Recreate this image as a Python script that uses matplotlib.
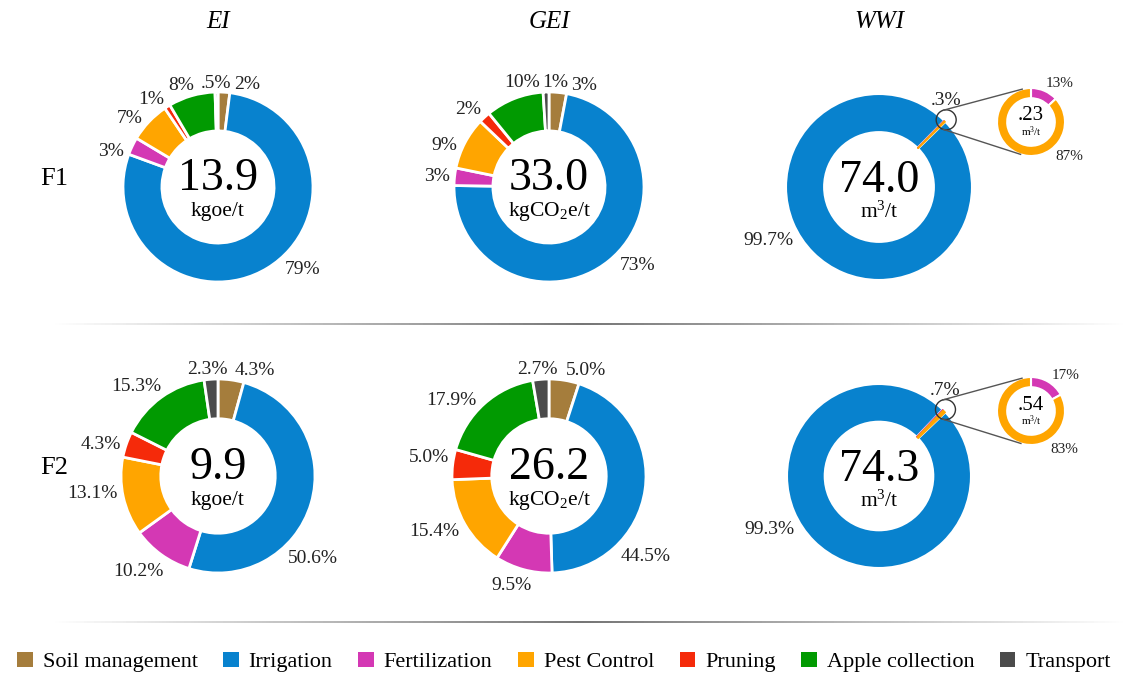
import numpy as np
import matplotlib
matplotlib.use("Agg")
import matplotlib.pyplot as plt
from matplotlib.patches import Patch, Circle
from matplotlib.collections import LineCollection

SERIF = "Liberation Serif"
plt.rcParams["font.family"] = [SERIF, "DejaVu Serif"]
plt.rcParams["mathtext.fontset"] = "custom"
plt.rcParams["mathtext.rm"] = SERIF
plt.rcParams["mathtext.it"] = SERIF + ":italic"

# ---------------- data ----------------
categories = ["Soil management", "Irrigation", "Fertilization", "Pest Control",
              "Pruning", "Apple collection", "Transport"]
colors = ["#A57D3C", "#0882CE", "#D438B4", "#FFA500", "#F52A0A", "#019A01", "#4B4B4B"]

ei_f1 = [2, 79, 3, 7, 1, 8, 0.5]
gei_f1 = [3, 73, 3, 9, 2, 10, 1]
ei_f2 = [4.3, 50.6, 10.2, 13.1, 4.3, 15.3, 2.3]
gei_f2 = [5.0, 44.5, 9.5, 15.4, 5.0, 17.9, 2.7]

wwi_irrigation = [99.7, 99.3]          # % of WWI from irrigation (F1, F2)
wwi_other = [0.3, 0.7]                 # % of WWI from the rest (F1, F2)
wwi_other_split_f1 = [13, 87]          # Fertilization, Pest Control (% of the rest)
wwi_other_split_f2 = [17, 83]
wwi_other_value = [0.23, 0.54]         # m3/t

ei_total = [13.9, 9.9]
gei_total = [33.0, 26.2]
wwi_total = [74.0, 74.3]

titles = ["EI", "GEI", "WWI"]
rows = ["F1", "F2"]
units = ["kgoe/t", r"kgCO$_2$e/t", r"m$^3$/t"]

# ---------------- layout / style ----------------
W, H = 1123, 677
COL_X = [218, 549, 879]
ROW_Y = [187, 476]                       # pixel rows (from top)
R_MAIN = [[95, 95, 93], [97, 97, 92]]
HOLE = 0.59
INSET_OFF = (152, -65)
R_INSET, HOLE_INSET = 34, 0.70
LABEL_FS, LEGEND_FS = 14, 16
# angular shift (deg) of each label from its wedge centre
SHIFTS = {
    (0, 0): [-12, 15, 6.5, 5, 4.4, 3.3, 0],
    (0, 1): [-13.6, 10, 0, 5.3, 2.8, -7, -5.4],
    (1, 0): [-11, -24, -4.6, -5.3, 3, 5.8, 1.6],
    (1, 1): [-10, -31, -4, -5, -3, 9.6, 1],
}
WWI_IRR_SHIFT = -20
INSET_SHIFTS = [-12.6, 73]
SLIVER_ANGLE = 45

fig = plt.figure(figsize=(W / 100, H / 100), dpi=100)
ax = fig.add_axes([0, 0, 1, 1])
renderer = fig.canvas.get_renderer()


def Y(ypix):
    return H - ypix


def fmt(v, dec):
    s = f"{v:g}" if dec is None else f"{v:.{dec}f}"
    if s.startswith("0."):
        s = s[1:]
    return s + "%"


def radial_label(cx, cy, R, ang, s, fs, gap=4):
    t = ax.text(0, 0, s, fontsize=fs, ha="center", va="baseline", color="#222222")
    w = t.get_window_extent(renderer).width
    h = 0.66 * fs * 100 / 72
    c, sn = np.cos(np.radians(ang)), np.sin(np.radians(ang))
    r = R + gap + 0.5 * (w * abs(c) + h * abs(sn))
    t.set_position((cx + r * c, cy + r * sn - h / 2))
    return t


def donut(cx, cy, R, vals, cols, start, hole=HOLE, lw=2):
    wedges, _ = ax.pie(vals, colors=cols, startangle=start, counterclock=False,
                       radius=R, center=(cx, cy),
                       wedgeprops=dict(width=R * (1 - hole), edgecolor="white", linewidth=lw))
    return wedges


def center_text(cx, cy, big, unit, fs_big=33, fs_unit=15.5, d1=3, d2=29):
    ax.text(cx, cy - d1, big, fontsize=fs_big, ha="center", va="baseline", color="black")
    ax.text(cx, cy - d2, unit, fontsize=fs_unit, ha="center", va="baseline", color="black")


series = {(0, 0): ei_f1, (0, 1): gei_f1, (1, 0): ei_f2, (1, 1): gei_f2}
totals = {(0, 0): ei_total[0], (0, 1): gei_total[0], (1, 0): ei_total[1], (1, 1): gei_total[1]}
decs = [None, 1]

for (ri, ci), vals in series.items():
    cx, cy, R = COL_X[ci], Y(ROW_Y[ri]), R_MAIN[ri][ci]
    wedges = donut(cx, cy, R, vals, colors, 90)
    for k, w in enumerate(wedges):
        ang = (w.theta1 + w.theta2) / 2 + SHIFTS[(ri, ci)][k]
        radial_label(cx, cy, R, ang, fmt(vals[k], decs[ri]), LABEL_FS)
    center_text(cx, cy, f"{totals[(ri, ci)]:.1f}", units[ci])

# WWI panels
splits = [wwi_other_split_f1, wwi_other_split_f2]
for ri in range(2):
    cx, cy, R = COL_X[2], Y(ROW_Y[ri]), R_MAIN[ri][2]
    other = wwi_other[ri]
    sp = splits[ri]
    vals = [other * sp[0] / 100, other * sp[1] / 100, wwi_irrigation[ri]]
    cols = [colors[2], colors[3], colors[1]]
    tot = sum(vals)
    start = SLIVER_ANGLE + 360 * other / tot / 2
    wedges = donut(cx, cy, R, vals, cols, start, lw=1.5)
    for w, col in zip(wedges[:2], cols[:2]):
        w.set_edgecolor(col)
        w.set_linewidth(0.8)
        w.set_zorder(3)
    # irrigation label
    irr = wedges[2]
    radial_label(cx, cy, R, (irr.theta1 + irr.theta2) / 2 + WWI_IRR_SHIFT,
                 fmt(wwi_irrigation[ri], 1), LABEL_FS)
    center_text(cx, cy, f"{wwi_total[ri]:.1f}", units[2], d1=5, d2=31)

    # magnifier circle
    a = np.radians(SLIVER_ANGLE)
    mx, my, mr = cx + (R + 2) * np.cos(a), cy + (R + 2) * np.sin(a), 10
    ax.add_patch(Circle((mx, my), mr, fill=False, edgecolor="#333333", lw=1, zorder=4))
    ax.text(mx, my + mr + 5, fmt(other, 1), fontsize=LABEL_FS, ha="center",
            va="baseline", color="#222222")

    # inset donut
    ix, iy = cx + INSET_OFF[0], cy - INSET_OFF[1]
    iw = donut(ix, iy, R_INSET, sp, [colors[2], colors[3]], 90, hole=HOLE_INSET, lw=1.5)
    for k, w in enumerate(iw):
        radial_label(ix, iy, R_INSET, (w.theta1 + w.theta2) / 2 + INSET_SHIFTS[k],
                     f"{sp[k]}%", 11, gap=3)
    ax.text(ix, iy + 1.5, fmt(wwi_other_value[ri], 2)[:-1], fontsize=15,
            ha="center", va="baseline")
    ax.text(ix, iy - 14, units[2], fontsize=8, ha="center", va="baseline")

    # external tangent connector lines
    d = np.array([ix - mx, iy - my])
    D = np.hypot(*d)
    phi = np.arctan2(d[1], d[0])
    beta = np.arcsin((R_INSET - mr) / D)
    for sgn in (1, -1):
        th = phi + sgn * (np.pi / 2 + beta)
        n = np.array([np.cos(th), np.sin(th)])
        p1 = np.array([mx, my]) + mr * n
        p2 = np.array([ix, iy]) + R_INSET * n
        ax.plot([p1[0], p2[0]], [p1[1], p2[1]], color="#555555", lw=1, zorder=4)

# titles and row labels
for ci, t in enumerate(titles):
    ax.text(COL_X[ci], Y(22), t, fontsize=18, style="italic", ha="center", va="center")
for ri, t in enumerate(rows):
    ax.text(54, Y(ROW_Y[ri] - 8), t, fontsize=19, ha="center", va="center")

# gradient separator lines
def sep(ypix, x0=55, x1=1123, xc=583):
    xs = np.linspace(x0, x1, 300)
    segs = [[(xs[i], Y(ypix)), (xs[i + 1], Y(ypix))] for i in range(len(xs) - 1)]
    mid = (xs[:-1] + xs[1:]) / 2
    half = np.where(mid < xc, xc - x0, x1 - xc)
    alpha = np.clip(1 - np.abs(mid - xc) / half, 0, 1) ** 1.0
    cols = [(0.42, 0.42, 0.42, a * 0.95) for a in alpha]
    ax.add_collection(LineCollection(segs, colors=cols, linewidths=1.4))

sep(324)
sep(622)

ax.set_xlim(0, W)
ax.set_ylim(0, H)
ax.set_aspect("equal")
ax.axis("off")

handles = [Patch(facecolor=c, edgecolor="none") for c in colors]
fig.legend(handles, categories, loc="center", bbox_to_anchor=(564 / W, (H - 662) / H),
           ncol=7, frameon=False, fontsize=LEGEND_FS, handlelength=0.7, handleheight=0.7,
           handletextpad=0.45, columnspacing=1.15, borderaxespad=0, borderpad=0)

fig.savefig("out.png", dpi=100, facecolor="white")
